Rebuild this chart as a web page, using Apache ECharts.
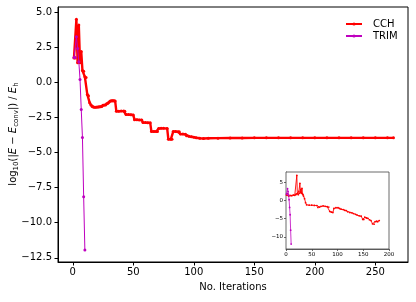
<!DOCTYPE html>
<html>
<head>
<meta charset="utf-8">
<script src="https://cdn.jsdelivr.net/npm/echarts@6/dist/echarts.min.js"></script>
<style>
html,body{margin:0;padding:0;background:#fff;}
#c{width:416px;height:302px;}
</style>
</head>
<body>
<div id="c"></div>
<script>
// ---- main panel data ----
var cchIter = [1,2,3,4,5,6,7,8,9,10,11,12,13,14,15,16,17,18,19,20,21,22,23,24,25,26,27,28,29,30,31,32,33,34,35,36,38,40,42,43,44,46,48,50,51,53,55,57,58,60,62,64,65,67,69,70,71,73,75,78,79,81,82,83,85,87,88,89,91,93,94,96,98,100,102,105,108,112,120,130,140,150,160,170,180,190,200,210,220,230,240,250,260,265];
var cchVal  = [1.75,1.75,4.5,1.4,4.1,1.4,2.2,0.85,0.8,0.4,0.35,-0.85,-0.95,-1.45,-1.6,-1.72,-1.75,-1.76,-1.76,-1.75,-1.75,-1.74,-1.73,-1.72,-1.62,-1.6,-1.6,-1.52,-1.48,-1.4,-1.33,-1.3,-1.3,-1.3,-1.32,-2.05,-2.05,-2.04,-2.04,-2.06,-2.28,-2.29,-2.3,-2.32,-2.65,-2.66,-2.67,-2.68,-2.85,-2.86,-2.87,-2.88,-3.5,-3.5,-3.5,-3.5,-3.28,-3.27,-3.27,-3.28,-4.05,-4.05,-4.05,-3.5,-3.5,-3.52,-3.52,-3.68,-3.68,-3.7,-3.8,-3.84,-3.87,-3.9,-3.94,-3.98,-3.99,-3.98,-3.97,-3.96,-3.96,-3.95,-3.95,-3.95,-3.95,-3.95,-3.95,-3.95,-3.95,-3.95,-3.95,-3.95,-3.95,-3.95];
var trimIter = [1,2,3,4,5,6,7,8,9,10];
var trimVal  = [1.78,1.78,3.26,2.43,1.48,0.22,-1.92,-3.92,-8.15,-11.95];
var xTicks = [0,50,100,150,200,250];
var yTicks = [-12.5,-10,-7.5,-5,-2.5,0,2.5,5];

// ---- inset data ----
var insCchIter = [1,3,5,8,11,14,17,19,20,21,22,23,24,25,26,27,28,29,30,31,32,33,34,36,38,40,45,50,55,60,62,65,68,72,76,80,83,85,88,91,93,97,101,104,107,111,114,117,120,124,128,131,135,138,142,146,149,151,153,156,159,162,165,168,171,173,176,178,181];
var insCchVal  = [1.5,1.9,1.2,1.4,1.3,1.5,1.4,1.6,1.8,6.9,1.8,2.0,1.6,2.5,2.0,4.7,2.2,3.0,2.0,3.3,1.8,1.6,1.2,0.5,-0.6,-1.2,-1.3,-1.3,-1.35,-1.4,-1.9,-1.8,-1.6,-1.5,-1.6,-1.7,-1.8,-3.0,-3.2,-3.3,-2.2,-2.0,-2.0,-2.2,-2.4,-2.5,-2.7,-2.8,-3.1,-3.3,-3.4,-3.6,-3.8,-4.0,-4.2,-4.3,-5.2,-5.2,-4.6,-4.8,-4.9,-5.3,-5.5,-6.4,-6.5,-5.8,-5.7,-5.8,-5.5];
var insXTicks = [0,50,100,150,200];
var insYTicks = [-10,-5,0,5];

function pairs(xs, ys){ return xs.map(function(x,i){ return [x, ys[i]]; }); }
function fmtMinus(s){ return String(s).replace('-', '\u2212'); }

var RED = '#ff0000', MAG = '#bf00bf';
var FONT = 'DejaVu Sans';

var chart = echarts.init(document.getElementById('c'), null, {renderer:'canvas'});
chart.setOption({
  animation: false,
  backgroundColor: '#fff',
  textStyle: {fontFamily: FONT},
  grid: [
    {left: 58, right: 8, top: 7, bottom: 40, show: true, borderColor: '#000', borderWidth: 1, backgroundColor: 'transparent'},
    {left: 286, right: 27, top: 172, bottom: 53, show: true, borderColor: '#444', borderWidth: 0.8, backgroundColor: '#fff', z: 5}
  ],
  legend: {
    orient: 'vertical', left: 340, top: 14, itemWidth: 16, itemHeight: 4, itemGap: 2,
    textStyle: {fontFamily: FONT, fontSize: 10, color: '#000', padding: [0,0,0,6]},
    data: ['CCH', 'TRIM']
  },
  xAxis: [
    {gridIndex: 0, type: 'value', min: -12.2, max: 277,
     name: 'No. Iterations', nameLocation: 'middle', nameGap: 20,
     nameTextStyle: {fontFamily: FONT, fontSize: 10, color: '#000'},
     axisLine: {show: true, onZero: false, lineStyle: {color: '#000', width: 1}},
     axisTick: {show: true, inside: false, length: 3.5, lineStyle: {color: '#000'}, customValues: xTicks},
     axisLabel: {fontFamily: FONT, fontSize: 10, color: '#000', margin: 5, customValues: xTicks},
     splitLine: {show: false}},
    {gridIndex: 1, type: 'value', min: 0, max: 200,
     axisLine: {show: true, onZero: false, lineStyle: {color: '#444', width: 0.8}},
     axisTick: {show: true, length: 2, lineStyle: {color: '#444', width: 0.8}, customValues: insXTicks},
     axisLabel: {fontFamily: FONT, fontSize: 5.5, color: '#000', margin: 3, customValues: insXTicks},
     splitLine: {show: false}}
  ],
  yAxis: [
    {gridIndex: 0, type: 'value', min: -12.8, max: 5.38,
     axisLine: {show: true, onZero: false, lineStyle: {color: '#000', width: 1}},
     axisTick: {show: true, inside: false, length: 3.5, lineStyle: {color: '#000'}, customValues: yTicks},
     axisLabel: {fontFamily: FONT, fontSize: 10, color: '#000', margin: 6, customValues: yTicks,
       formatter: function(v){ return fmtMinus(v.toFixed(1)); }},
     splitLine: {show: false}},
    {gridIndex: 1, type: 'value', min: -13.3, max: 7.8,
     axisLine: {show: true, onZero: false, lineStyle: {color: '#444', width: 0.8}},
     axisTick: {show: true, length: 2, lineStyle: {color: '#444', width: 0.8}, customValues: insYTicks},
     axisLabel: {fontFamily: FONT, fontSize: 5.5, color: '#000', margin: 3, customValues: insYTicks,
       formatter: function(v){ return fmtMinus(v); }},
     splitLine: {show: false}}
  ],
  graphic: [{
    type: 'text', x: 13, y: 134, rotation: Math.PI/2,
    style: {
      text: '{n|log}{s|10}{n|(|}{i|E}{n| \u2212 }{i|E}{s|conv}{n||) / }{i|E}{s|h}',
      align: 'center', verticalAlign: 'middle', fill: '#000',
      rich: {
        n: {fontFamily: FONT, fontSize: 10, lineHeight: 14, fill: '#000'},
        i: {fontFamily: FONT, fontSize: 10, fontStyle: 'italic', lineHeight: 14, fill: '#000'},
        s: {fontFamily: FONT, fontSize: 7, lineHeight: 9, verticalAlign: 'bottom', fill: '#000'}
      }
    }
  }],
  series: [
    {name: 'CCH', type: 'line', xAxisIndex: 0, yAxisIndex: 0, data: pairs(cchIter, cchVal),
     color: RED, lineStyle: {color: RED, width: 2.4}, symbol: 'circle', symbolSize: 3,
     itemStyle: {color: RED}, z: 3},
    {name: 'TRIM', type: 'line', xAxisIndex: 0, yAxisIndex: 0, data: pairs(trimIter, trimVal),
     color: MAG, lineStyle: {color: MAG, width: 1}, symbol: 'circle', symbolSize: 3,
     itemStyle: {color: MAG}, z: 4},
    {name: 'CCH', type: 'line', xAxisIndex: 1, yAxisIndex: 1, data: pairs(insCchIter, insCchVal),
     color: RED, lineStyle: {color: RED, width: 0.9}, symbol: 'circle', symbolSize: 1.8,
     itemStyle: {color: RED}, z: 6},
    {name: 'TRIM', type: 'line', xAxisIndex: 1, yAxisIndex: 1, data: pairs(trimIter, trimVal),
     color: MAG, lineStyle: {color: MAG, width: 0.8}, symbol: 'circle', symbolSize: 1.8,
     itemStyle: {color: MAG}, z: 7}
  ]
});
</script>
</body>
</html>
